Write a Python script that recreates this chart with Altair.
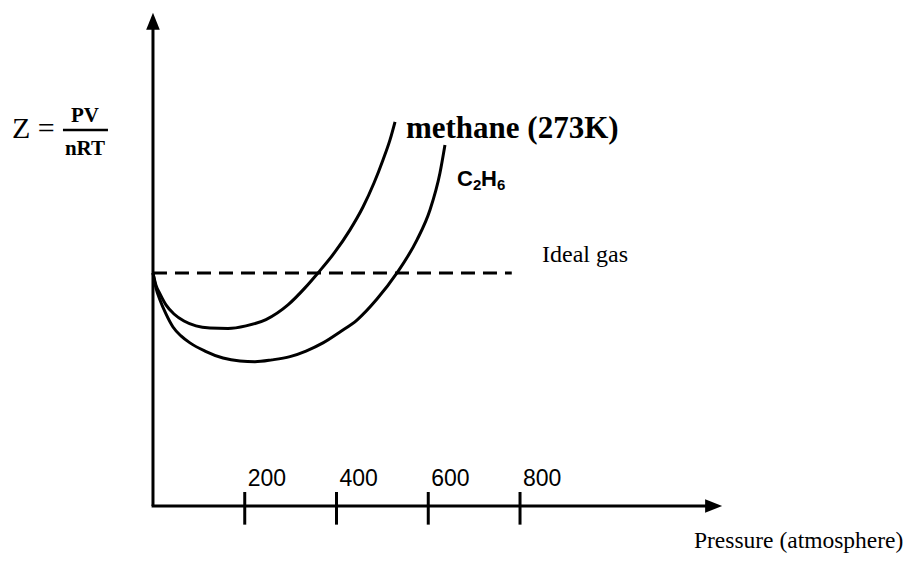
import altair as alt
import pandas as pd

# ---- data (pressure in atm, Z = PV/nRT) ----
methane_p = [0, 6.5, 15.3, 28.3, 45.8, 67.6, 93.7, 124.2, 163.5, 202.7, 246.3, 294.2,
             331.3, 359.6, 396.7, 429.4, 457.7, 481.7, 501.3, 516.6, 527.5]
methane_z = [1.000, 0.948, 0.910, 0.863, 0.824, 0.794, 0.773, 0.764, 0.762, 0.773, 0.800,
             0.863, 0.936, 1.000, 1.090, 1.185, 1.283, 1.386, 1.485, 1.571, 1.648]

ethane_p = [0, 6.5, 15.3, 28.3, 43.6, 61.0, 80.6, 113.3, 152.6, 189.6, 222.3, 259.4, 298.6,
            333.5, 370.5, 407.6, 444.6, 488.2, 531.8, 575.4, 603.7, 625.5, 636.4]
ethane_z = [1.000, 0.936, 0.884, 0.824, 0.768, 0.730, 0.700, 0.665, 0.635, 0.622, 0.619,
            0.627, 0.641, 0.665, 0.700, 0.747, 0.798, 0.888, 1.000, 1.142, 1.270, 1.429, 1.549]

tick_values = [200, 400, 600, 800]
tick_labels = ["200", "400", "600", "800"]

ideal_p = [0, 782]
ideal_z = [1, 1]

X_DOMAIN = [-316, 1650]
Y_DOMAIN = [-0.206, 2.137]

xs = alt.Scale(domain=X_DOMAIN, nice=False, zero=False)
ys = alt.Scale(domain=Y_DOMAIN, nice=False, zero=False)


def X(field="x"):
    return alt.X(f"{field}:Q", scale=xs, axis=None)


def Y(field="y"):
    return alt.Y(f"{field}:Q", scale=ys, axis=None)


curves = pd.DataFrame(
    {"x": methane_p + ethane_p,
     "y": methane_z + ethane_z,
     "gas": ["methane"] * len(methane_p) + ["C2H6"] * len(ethane_p)}
)

curve_layer = alt.Chart(curves).mark_line(
    color="black", strokeWidth=3, interpolate="monotone"
).encode(x=X(), y=Y(), detail="gas:N")

ideal = pd.DataFrame({"x": ideal_p, "y": ideal_z})
ideal_layer = alt.Chart(ideal).mark_line(
    color="black", strokeWidth=3, strokeDash=[14, 8], strokeCap="butt"
).encode(x=X(), y=Y())

# axes
yaxis = alt.Chart(pd.DataFrame({"x": [0], "y": [0], "y2": [2.07]})).mark_rule(
    color="black", strokeWidth=3
).encode(x=X(), y=Y(), y2="y2:Q")
xaxis = alt.Chart(pd.DataFrame({"x": [-3], "x2": [1215], "y": [0]})).mark_rule(
    color="black", strokeWidth=3
).encode(x=X(), x2="x2:Q", y=Y())

up_arrow = alt.Chart(pd.DataFrame({"x": [0], "y": [2.08]})).mark_point(
    shape="M0,-1L0.8,1L-0.8,1Z", filled=True, size=289, color="black", opacity=1, strokeWidth=0
).encode(x=X(), y=Y())
right_arrow = alt.Chart(pd.DataFrame({"x": [1222], "y": [0]})).mark_point(
    shape="M1,0L-1,-0.8L-1,0.8Z", filled=True, size=289, color="black", opacity=1, strokeWidth=0
).encode(x=X(), y=Y())

ticks = pd.DataFrame({"x": tick_values, "y": [-0.08] * 4, "y2": [0.06] * 4,
                      "ly": [0.086] * 4, "label": tick_labels})
tick_layer = alt.Chart(ticks).mark_rule(color="black", strokeWidth=3).encode(
    x=X(), y=Y(), y2="y2:Q"
)
tick_text = alt.Chart(ticks).mark_text(
    align="left", baseline="alphabetic", dx=3,
    font="Liberation Sans", fontSize=23, color="black"
).encode(x=X(), y=Y("ly"), text="label:N")

# annotations
methane_lbl = alt.Chart(pd.DataFrame({"x": [551.4], "y": [1.579], "text": ["methane (273K)"]})).mark_text(
    align="left", baseline="alphabetic", font="Liberation Serif", fontWeight="bold",
    fontSize=31, color="black"
).encode(x=X(), y=Y(), text="text:N")

ideal_lbl = alt.Chart(pd.DataFrame({"x": [848], "y": [1.047], "text": ["Ideal gas"]})).mark_text(
    align="left", baseline="alphabetic", font="Liberation Serif", fontSize=24, color="black"
).encode(x=X(), y=Y(), text="text:N")

press_lbl = alt.Chart(pd.DataFrame({"x": [1179], "y": [-0.180], "text": ["Pressure (atmosphere)"]})).mark_text(
    align="left", baseline="alphabetic", font="Liberation Serif", fontSize=23.5, color="black"
).encode(x=X(), y=Y(), text="text:N")

z_lbl = alt.Chart(pd.DataFrame({"x": [-307.3], "y": [1.579], "text": ["Z ="]})).mark_text(
    align="left", baseline="alphabetic", font="Liberation Serif", fontSize=30, color="black"
).encode(x=X(), y=Y(), text="text:N")

# C2H6 label: main letters and subscripts
c_main = alt.Chart(pd.DataFrame({"x": [662.6, 714.9], "y": [1.373, 1.373], "text": ["C", "H"]})).mark_text(
    align="left", baseline="alphabetic", font="Liberation Sans", fontWeight="bold",
    fontSize=22, color="black"
).encode(x=X(), y=Y(), text="text:N")
c_sub = alt.Chart(pd.DataFrame({"x": [697.5, 749.8], "y": [1.356, 1.356], "text": ["2", "6"]})).mark_text(
    align="left", baseline="alphabetic", font="Liberation Sans", fontWeight="bold",
    fontSize=15, color="black"
).encode(x=X(), y=Y(), text="text:N")

frac = pd.DataFrame({"x": [-148.2, -148.2], "y": [1.648, 1.506], "text": ["PV", "nRT"]})
frac_text = alt.Chart(frac).mark_text(
    align="center", baseline="alphabetic", font="Liberation Serif", fontWeight="bold",
    fontSize=21, color="black"
).encode(x=X(), y=Y(), text="text:N")
frac_bar = alt.Chart(pd.DataFrame({"x": [-196.2], "x2": [-98.1], "y": [1.614]})).mark_rule(
    color="black", strokeWidth=2.5
).encode(x=X(), x2="x2:Q", y=Y())

chart = alt.layer(
    yaxis, xaxis, up_arrow, right_arrow, tick_layer, tick_text,
    ideal_layer, curve_layer,
    methane_lbl, ideal_lbl, press_lbl, z_lbl, c_main, c_sub, frac_text, frac_bar,
).properties(
    width=902, height=546, autosize=alt.AutoSizeParams(type="none"), padding=0,
    background="white"
).configure_view(stroke=None)

chart.save("out.html", embed_options={"renderer": "svg", "actions": False})
